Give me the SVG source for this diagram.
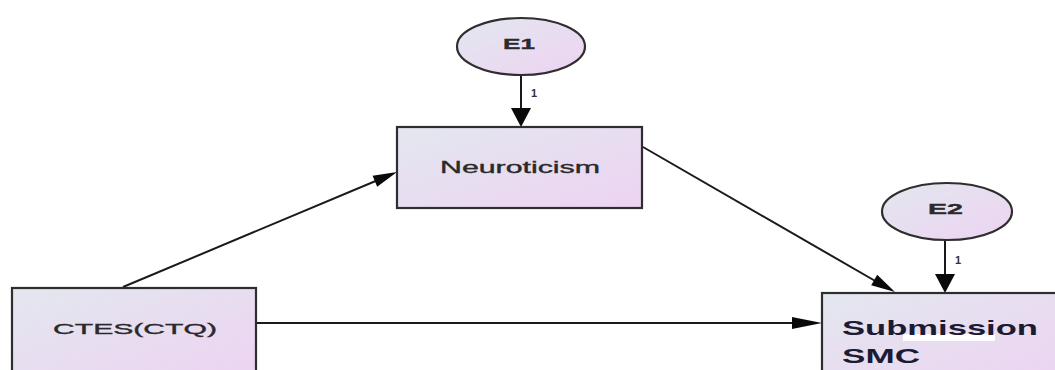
<svg xmlns="http://www.w3.org/2000/svg" width="1055" height="370" viewBox="0 0 1055 370">
<defs>
<linearGradient id="fill" x1="0" y1="0" x2="1" y2="1">
<stop offset="0" stop-color="#e3e7ef"/>
<stop offset="1" stop-color="#edd3f2"/>
</linearGradient>
<style>
.box{fill:url(#fill);stroke:#2e2e2e;stroke-width:2.2}
.lbl{font-family:"Liberation Sans",Arial,sans-serif;fill:#2a2a2a;stroke:#2a2a2a;stroke-width:0.35}
.line{stroke:#1a1a1a;stroke-width:2;fill:none}
.head{fill:#0a0a0a;stroke:none}
.one{font-family:"Liberation Sans",Arial,sans-serif;font-size:11px;font-weight:bold;fill:#333}
</style>
</defs>
<rect width="1055" height="370" fill="#ffffff"/>
<g id="connectors">
<line class="line" x1="521" y1="75" x2="521" y2="110"/>
<path class="head" d="M521,127 L511,108 L531,108 Z"/>
<text class="one" x="531" y="97">1</text>
<line class="line" x1="945" y1="240" x2="945" y2="276"/>
<path class="head" d="M945,293 L935,274 L955,274 Z"/>
<text class="one" x="955" y="264">1</text>
<line class="line" x1="123" y1="287" x2="378" y2="180"/>
<path class="head" d="M397,172 L377.2,186.8 L372.6,175.8 Z"/>
<line class="line" x1="643" y1="147" x2="877" y2="282"/>
<path class="head" d="M895,292 L871.2,285.2 L877.2,274.8 Z"/>
<line class="line" x1="256" y1="323" x2="795" y2="323"/>
<path class="head" d="M822,323 L792,317 L792,329 Z"/>
</g>
<g id="E1">
<ellipse class="box" cx="521" cy="46.5" rx="64" ry="28.5"/>
<text class="lbl" x="503" y="49" font-size="15" font-weight="bold" textLength="32" lengthAdjust="spacingAndGlyphs">E1</text>
</g>
<g id="E2">
<ellipse class="box" cx="947" cy="211.5" rx="65" ry="28.5"/>
<text class="lbl" x="928" y="214" font-size="15" font-weight="bold" textLength="35" lengthAdjust="spacingAndGlyphs">E2</text>
</g>
<g id="Neuroticism">
<rect class="box" x="397" y="127" width="245" height="81"/>
<text class="lbl" x="440" y="173" font-size="16" textLength="160" lengthAdjust="spacingAndGlyphs">Neuroticism</text>
</g>
<g id="CTES">
<rect class="box" x="12" y="288" width="244" height="90"/>
<text class="lbl" x="53" y="334" font-size="15" textLength="164" lengthAdjust="spacingAndGlyphs">CTES(CTQ)</text>
</g>
<g id="Submission">
<rect class="box" x="822" y="293" width="240" height="90"/>
<rect x="903" y="334" width="92" height="7" fill="#ffffff"/>
<text x="842" y="335" font-family="'Liberation Sans',Arial,sans-serif" font-size="21" font-weight="bold" fill="#1b1b33" textLength="196" lengthAdjust="spacingAndGlyphs">Submission</text>
<text x="842" y="363" font-family="'Liberation Sans',Arial,sans-serif" font-size="21" font-weight="bold" fill="#1b1b33" textLength="78" lengthAdjust="spacingAndGlyphs">SMC</text>
</g>
</svg>
